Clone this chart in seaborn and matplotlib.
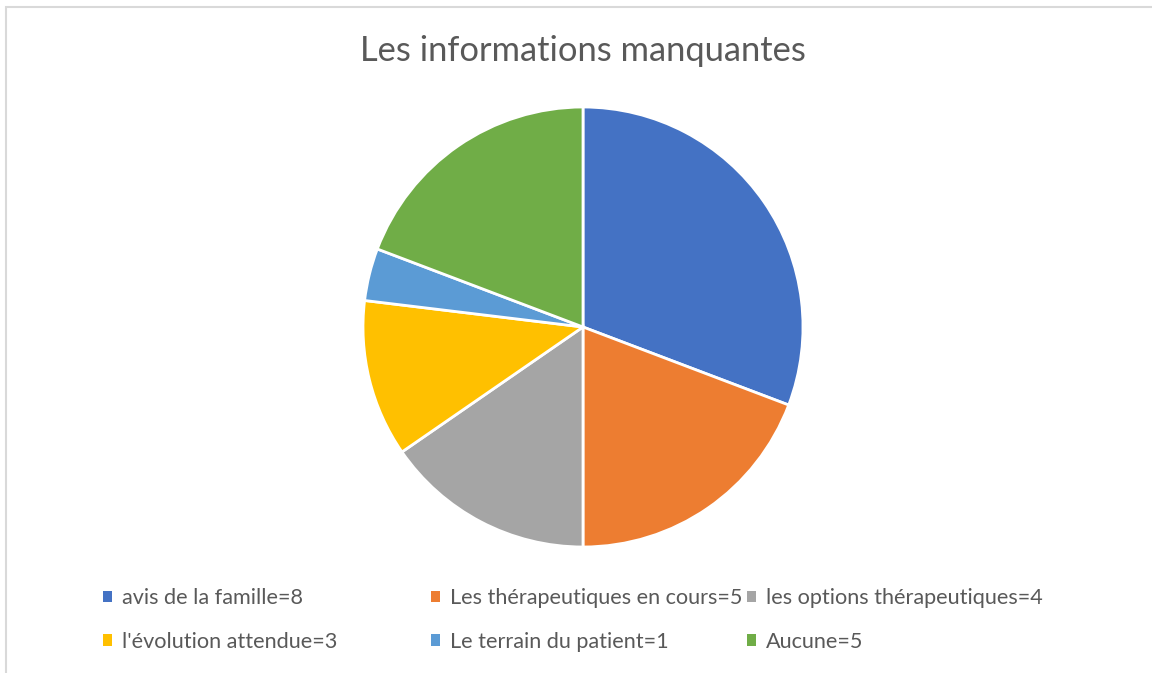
import matplotlib
matplotlib.use("Agg")
import matplotlib.pyplot as plt
from matplotlib.patches import Rectangle, Patch
import seaborn as sns

labels = ["avis de la famille", "Les thérapeutiques en cours", "les options thérapeutiques",
          "l'évolution attendue", "Le terrain du patient", "Aucune"]
counts = [8, 5, 4, 3, 1, 5]
colors = ["#4472C4", "#ED7D31", "#A5A5A5", "#FFC000", "#5B9BD5", "#70AD47"]
title = "Les informations manquantes"

sns.set_theme(style="white")
plt.rcParams["font.family"] = ["Lato", "DejaVu Sans"]

W, H = 1152, 673
fig = plt.figure(figsize=(W / 100, H / 100), dpi=100)
fig.patch.set_facecolor("white")

# chart frame
fig.patches.append(Rectangle((6 / W, -0.1), 1.2, (H - 7) / H + 0.1, transform=fig.transFigure,
                             fill=False, edgecolor="#D9D9D9", linewidth=1.5))

# pie centre (583, 327) radius 220 px
cx, cy, r = 583, 327, 220
ax = fig.add_axes([(cx - r) / W, (H - cy - r) / H, 2 * r / W, 2 * r / H])
ax.pie(counts, colors=colors, startangle=90, counterclock=False,
       wedgeprops=dict(edgecolor="white", linewidth=2))
ax.set_aspect("equal")
ax.set_xlim(-1, 1)
ax.set_ylim(-1, 1)

fig.text(583 / W, 1 - 51 / H, title, ha="center", va="center", fontsize=24.8,
         color="#595959")

# legend, three columns of two rows
col_x = [103, 431, 747]
for c in range(3):
    handles = []
    for i in (c, c + 3):
        handles.append(Patch(facecolor=colors[i], edgecolor="none",
                             label=f"{labels[i]}={counts[i]}"))
    fig.legend(handles=handles, loc="upper left",
               bbox_to_anchor=(col_x[c] / W, 1 - 588 / H), frameon=False,
               fontsize=15.6, labelcolor="#595959", handlelength=0.42, handleheight=0.42,
               handletextpad=0.46, labelspacing=1.1, borderpad=0, borderaxespad=0)

fig.savefig("out.png", dpi=100, facecolor="white")
